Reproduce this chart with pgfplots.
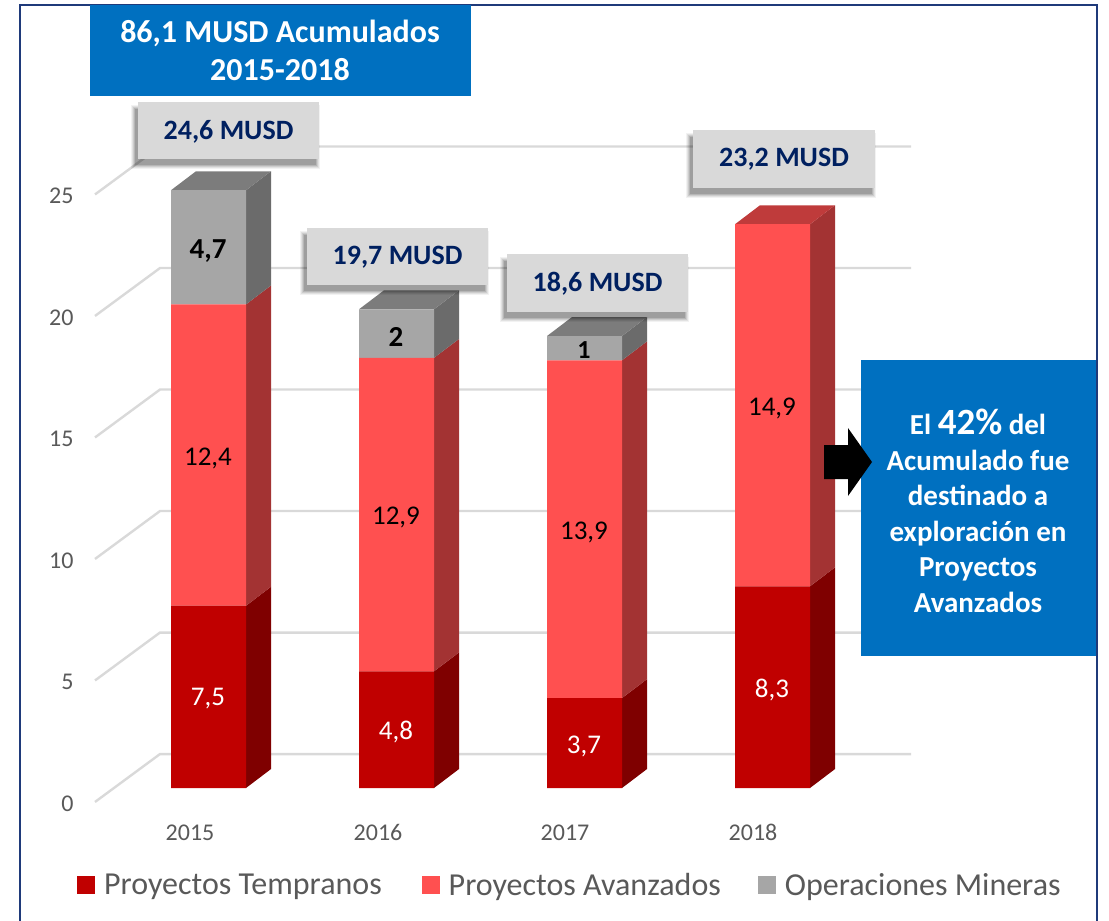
\documentclass[border=0pt]{standalone}
\usepackage{pgfplots}
\pgfplotsset{compat=1.18}
\usepackage{fontspec}
\setmainfont{Carlito}
\definecolor{cA}{HTML}{C00000}\definecolor{cB}{HTML}{FF5050}\definecolor{cC}{HTML}{A6A6A6}
\definecolor{sA}{HTML}{7F0000}\definecolor{sB}{HTML}{A33333}\definecolor{sC}{HTML}{6B6B6B}
\definecolor{tB}{HTML}{BF3B3B}\definecolor{tC}{HTML}{7C7C7C}
\definecolor{gridc}{HTML}{D9D9D9}\definecolor{txt}{HTML}{595959}
\definecolor{navy}{HTML}{002060}\definecolor{blu}{HTML}{0070C0}\definecolor{frm}{HTML}{1F3A7A}
\newcommand{\fs}[1]{\fontsize{#1}{#1}\selectfont}
\pgfplotsset{base/.style={scale only axis,width=1109pt,height=921pt,xmin=0,xmax=1109,clip=false,
  axis line style={draw=none},major tick length=0pt,tick style={draw=none}},
  dataax/.style={base,ymin=-5.473,ymax=32.428},
  gl/.style={gridc,line width=2.4pt,forget plot}}
\newcommand{\graybox}[6]{%
  \fill[black,opacity=.05] (axis cs:#1-7,#3+3) rectangle (axis cs:#2+1,#4+10);
  \fill[black,opacity=.07] (axis cs:#1-6,#3+4) rectangle (axis cs:#2,#4+9);
  \fill[black,opacity=.09] (axis cs:#1-5,#3+5) rectangle (axis cs:#2-1,#4+8);
  \fill[black,opacity=.11] (axis cs:#1-4,#3+6) rectangle (axis cs:#2-2,#4+7);
  \fill[black,opacity=.13] (axis cs:#1-3,#3+7) rectangle (axis cs:#2-3,#4+6);
  \fill[gridc] (axis cs:#1,#3) rectangle (axis cs:#2,#4);
  \node[font=\fs{28}\bfseries,text=navy] at (axis cs:{(#1+#2)/2},#5) {#6};
}
\begin{document}
\begin{tikzpicture}
\path[use as bounding box] (0,0) rectangle (1109pt,921pt);
% back: grid, side and top faces (values in chart units, depth = 25 px, 0.78 units)
\begin{axis}[dataax,
  xtick={190,378,565,753},xticklabels={2015,2016,2017,2018},
  xticklabel style={font=\fs{24},text=txt,anchor=base,yshift=80pt},
  ytick={-0.575,4.425,9.425,14.425,19.425,24.425},yticklabels={0,5,10,15,20,25},
  yticklabel style={font=\fs{24},text=txt,anchor=east,xshift=77pt,yshift=-1.5pt},
  ]
\addplot[gl] coordinates {(95,-0.575)(160,1.397)(911,1.397)};
\addplot[gl] coordinates {(95,4.425)(160,6.397)(911,6.397)};
\addplot[gl] coordinates {(95,9.425)(160,11.397)(911,11.397)};
\addplot[gl] coordinates {(95,14.425)(160,16.397)(911,16.397)};
\addplot[gl] coordinates {(95,19.425)(160,21.397)(911,21.397)};
\addplot[gl] coordinates {(95,24.425)(160,26.397)(911,26.397)};
% 2015
\addplot[fill=sA,draw=none] coordinates {(246,0)(271,0.78)(271,8.28)(246,7.5)} --cycle;
\addplot[fill=sB,draw=none] coordinates {(246,7.5)(271,8.28)(271,20.68)(246,19.9)} --cycle;
\addplot[fill=sC,draw=none] coordinates {(246,19.9)(271,20.68)(271,25.38)(246,24.6)} --cycle;
\addplot[fill=tC,draw=none] coordinates {(171,24.6)(196,25.38)(271,25.38)(246,24.6)} --cycle;
% 2016
\addplot[fill=sA,draw=none] coordinates {(434,0)(459,0.78)(459,5.58)(434,4.8)} --cycle;
\addplot[fill=sB,draw=none] coordinates {(434,4.8)(459,5.58)(459,18.48)(434,17.7)} --cycle;
\addplot[fill=sC,draw=none] coordinates {(434,17.7)(459,18.48)(459,20.48)(434,19.7)} --cycle;
\addplot[fill=tC,draw=none] coordinates {(359,19.7)(384,20.48)(459,20.48)(434,19.7)} --cycle;
% 2017
\addplot[fill=sA,draw=none] coordinates {(622,0)(647,0.78)(647,4.48)(622,3.7)} --cycle;
\addplot[fill=sB,draw=none] coordinates {(622,3.7)(647,4.48)(647,18.38)(622,17.6)} --cycle;
\addplot[fill=sC,draw=none] coordinates {(622,17.6)(647,18.38)(647,19.38)(622,18.6)} --cycle;
\addplot[fill=tC,draw=none] coordinates {(547,18.6)(572,19.38)(647,19.38)(622,18.6)} --cycle;
% 2018
\addplot[fill=sA,draw=none] coordinates {(810,0)(835,0.78)(835,9.08)(810,8.3)} --cycle;
\addplot[fill=sB,draw=none] coordinates {(810,8.3)(835,9.08)(835,23.98)(810,23.2)} --cycle;
\addplot[fill=tB,draw=none] coordinates {(735,23.2)(760,23.98)(835,23.98)(810,23.2)} --cycle;
\end{axis}
% front faces
\begin{axis}[dataax,xtick=\empty,ytick=\empty,ybar stacked,bar width=75,bar shift=0pt,
  legend columns=3,
  legend style={draw=none,fill=none,at={(axis cs:74,-4.0)},anchor=west,font=\fs{32},text=txt,
    nodes={inner xsep=0pt},
    /tikz/column 1/.style={column sep=9pt},
    /tikz/column 2/.style={column sep=40pt},
    /tikz/column 3/.style={column sep=9pt},
    /tikz/column 4/.style={column sep=37pt},
    /tikz/column 5/.style={column sep=9pt}},
  legend image code/.code={\fill[#1,draw=none] (0pt,-9pt) rectangle (18pt,9pt);},
  ]
\addplot[fill=cA,draw=none] coordinates {(208.5,7.5)(396.5,4.8)(584.5,3.7)(772.5,8.3)};
\addplot[fill=cB,draw=none] coordinates {(208.5,12.4)(396.5,12.9)(584.5,13.9)(772.5,14.9)};
\addplot[fill=cC,draw=none] coordinates {(208.5,4.7)(396.5,2)(584.5,1)(772.5,0)};
\legend{Proyectos Tempranos,Proyectos Avanzados,Operaciones Mineras}
\end{axis}
% annotations in pixel coordinates
\begin{axis}[base,ymin=0,ymax=921,y dir=reverse,xtick=\empty,ytick=\empty]
\draw[frm,line width=2pt] (axis cs:19.5,921) -- (axis cs:19.5,5) -- (axis cs:1096.5,5) -- (axis cs:1096.5,921);
\fill[blu] (axis cs:90,5) rectangle (axis cs:471,96);
\node[font=\fs{32}\bfseries,text=white,align=center] at (axis cs:280,50) {86,1 MUSD Acumulados\\[6pt]2015-2018};
\graybox{138}{319}{102}{159}{132}{24,6 MUSD}
\graybox{307}{488}{228}{285}{257}{19,7 MUSD}
\graybox{507}{688}{254}{312}{284}{18,6 MUSD}
\graybox{693}{875}{130}{188}{159}{23,2 MUSD}
\fill[blu] (axis cs:861,360) rectangle (axis cs:1096,656);
\fill[black] (axis cs:824,445) -- (axis cs:848,445) -- (axis cs:848,428) -- (axis cs:872,462) -- (axis cs:848,496) -- (axis cs:848,479) -- (axis cs:824,479) -- cycle;
\node[font=\fs{29}\bfseries,text=white,align=center] at (axis cs:978,511)
  {El {\fs{37}42\%} del\\[6.5pt]Acumulado fue\\[6.5pt]destinado a\\[6.5pt]exploración en\\[6.5pt]Proyectos\\[6.5pt]Avanzados};
\node[font=\fs{27},text=white] at (axis cs:208,699) {7,5};
\node[font=\fs{27},text=white] at (axis cs:396,732) {4,8};
\node[font=\fs{27},text=white] at (axis cs:584,746) {3,7};
\node[font=\fs{27},text=white] at (axis cs:772,690) {8,3};
\node[font=\fs{27},text=black] at (axis cs:208,458) {12,4};
\node[font=\fs{27},text=black] at (axis cs:396,517) {12,9};
\node[font=\fs{27},text=black] at (axis cs:584,532) {13,9};
\node[font=\fs{27},text=black] at (axis cs:772,408) {14,9};
\node[font=\fs{29}\bfseries,text=black] at (axis cs:208,251) {4,7};
\node[font=\fs{29}\bfseries,text=black] at (axis cs:396,337) {2};
\node[font=\fs{26}\bfseries,text=black] at (axis cs:584,350) {1};
\end{axis}
\end{tikzpicture}
\end{document}
